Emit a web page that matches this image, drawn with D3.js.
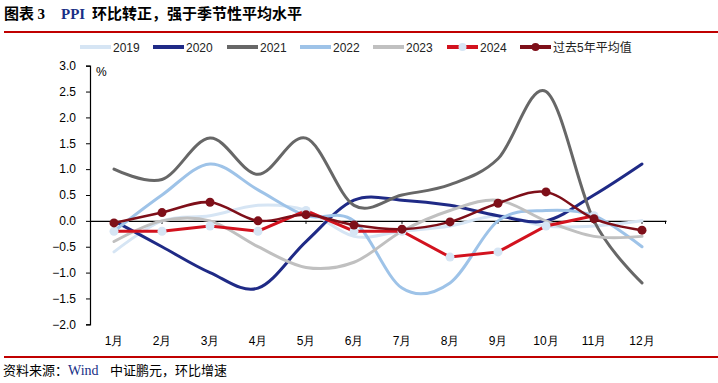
<!DOCTYPE html>
<html><head><meta charset="utf-8">
<script src="https://cdn.jsdelivr.net/npm/d3@7/dist/d3.min.js"></script>
<style>body{margin:0;background:#fff}svg{display:block}</style>
</head><body><svg id="c" width="718" height="383"></svg>
<script>
const months = ["1月","2月","3月","4月","5月","6月","7月","8月","9月","10月","11月","12月"];
const s2019 = [-0.6,0.0,0.1,0.3,0.2,-0.3,-0.2,-0.1,0.1,-0.1,-0.1,0.0];
const s2020 = [0.0,-0.5,-1.0,-1.3,-0.4,0.4,0.4,0.3,0.1,0.0,0.5,1.1];
const s2021 = [1.0,0.8,1.6,0.9,1.6,0.3,0.5,0.7,1.2,2.5,0.0,-1.2];
const s2022 = [-0.2,0.5,1.1,0.6,0.1,0.0,-1.3,-1.2,0.0,0.2,0.1,-0.5];
const s2023 = [-0.4,0.0,0.0,-0.5,-0.9,-0.8,-0.2,0.2,0.4,0.0,-0.3,-0.3];
const s2024 = [-0.2,-0.2,-0.1,-0.2,0.2,-0.2,-0.2,-0.7,-0.6,-0.1,0.1];
const avg5 = [-0.04,0.16,0.36,0.0,0.12,-0.08,-0.16,-0.02,0.34,0.56,0.04,-0.18];
const yTicks = [3.0,2.5,2.0,1.5,1.0,0.5,0.0,-0.5,-1.0,-1.5,-2.0];
const seriesNames = ["2019","2020","2021","2022","2023","2024","过去5年平均值"];

const svg = d3.select("#c");
const W = 718;
const x = d3.scaleBand().domain(months).range([90,666]);
const cx = m => x(m) + x.bandwidth()/2;
const y = d3.scaleLinear().domain([-2,3]).range([324.3,65.7]);

// title
const t = svg.append("text").attr("x",4).attr("y",19).attr("font-size",15).attr("font-weight","bold");
t.append("tspan").attr("font-family","Noto Sans CJK SC").attr("fill","#000").text("图表 ");
t.append("tspan").attr("font-family","Liberation Serif").attr("fill","#000").text("3");
t.append("tspan").attr("x",61).attr("font-family","Liberation Serif").attr("fill","#1a2f86").text("PPI");
t.append("tspan").attr("x",92).attr("font-family","Noto Sans CJK SC").attr("fill","#000").text("环比转正，强于季节性平均水平");
svg.append("rect").attr("x",4).attr("y",31).attr("width",W-4).attr("height",2).attr("fill","#c00000");
svg.append("rect").attr("x",4).attr("y",356).attr("width",W-4).attr("height",2).attr("fill","#c00000");

// source
const s = svg.append("text").attr("x",3).attr("y",375).attr("font-size",13);
s.append("tspan").attr("font-family","Noto Sans CJK SC").attr("fill","#000").text("资料来源：");
s.append("tspan").attr("x",68).attr("font-family","Liberation Serif").attr("font-size",14).attr("fill","#1a2f86").text("Wind");
s.append("tspan").attr("x",110).attr("font-family","Noto Sans CJK SC").attr("fill","#000").text("中证鹏元，环比增速");

// y axis
const ya = svg.append("g").attr("transform","translate(90,0)")
  .call(d3.axisLeft(y).tickValues(yTicks).tickFormat(d3.format(".1f")).tickSize(4).tickPadding(10));
ya.select(".domain").attr("stroke","#000").attr("stroke-width",1.2);
ya.selectAll(".tick line").attr("stroke","#000");
ya.selectAll("text").attr("font-family","Liberation Sans, Arial").attr("font-size",12).attr("fill","#000");
svg.append("text").attr("x",96).attr("y",76).attr("font-family","Liberation Sans, Arial").attr("font-size",12).text("%");

// x axis at zero
const xa = svg.append("g").attr("transform",`translate(0,${y(0)})`)
  .call(d3.axisBottom(x).tickSize(3).tickSizeOuter(0).tickFormat(""));
xa.select(".domain").attr("stroke","#000").attr("stroke-width",1.2);
xa.selectAll(".tick line").attr("stroke","#000");
svg.append("line").attr("x1",665.5).attr("x2",665.5).attr("y1",y(0)).attr("y2",y(0)+3).attr("stroke","#000");
svg.append("g").selectAll("text").data(months).join("text")
  .attr("x",d=>cx(d)).attr("y",345).attr("text-anchor","middle")
  .attr("font-family","Liberation Sans, Arial").attr("font-size",12).attr("fill","#000").text(d=>d);

const colors = ["#d6e5f4","#1f2a86","#676767","#9ec3e8","#c0c0c0","#d2121e","#7e0f19"];
const smooth = d3.line().x((d,i)=>cx(months[i])).y(d=>y(d)).curve(d3.curveCatmullRom.alpha(0));
const straight = d3.line().x((d,i)=>cx(months[i])).y(d=>y(d));
const years = [s2019,s2020,s2021,s2022,s2023];
years.forEach((arr,k)=>{
  svg.append("path").attr("d",smooth(arr)).attr("fill","none").attr("stroke",colors[k]).attr("stroke-width",3).attr("stroke-linecap","round");
});
svg.append("path").attr("d",straight(s2024)).attr("fill","none").attr("stroke",colors[5]).attr("stroke-width",3);
svg.append("g").selectAll("circle").data(s2024).join("circle")
  .attr("cx",(d,i)=>cx(months[i])).attr("cy",d=>y(d)).attr("r",4.5).attr("fill","#d6e5f4");
svg.append("path").attr("d",smooth(avg5)).attr("fill","none").attr("stroke",colors[6]).attr("stroke-width",2.5);
svg.append("g").selectAll("circle").data(avg5).join("circle")
  .attr("cx",(d,i)=>cx(months[i])).attr("cy",d=>y(d)).attr("r",4.5).attr("fill",colors[6]);

// legend
const lx = [80,153,227,300,373,447,520];
seriesNames.forEach((n,i)=>{
  const g = svg.append("g");
  g.append("line").attr("x1",lx[i]).attr("x2",lx[i]+31).attr("y1",47).attr("y2",47).attr("stroke",colors[i]).attr("stroke-width",4);
  if(i===5) g.append("circle").attr("cx",lx[i]+15.5).attr("cy",47).attr("r",4).attr("fill","#d6e5f4");
  if(i===6) g.append("circle").attr("cx",lx[i]+15.5).attr("cy",47).attr("r",4).attr("fill",colors[6]);
  g.append("text").attr("x",lx[i]+33).attr("y",51.5).attr("font-family","Liberation Sans, Arial, Noto Sans CJK SC").attr("font-size",12).attr("fill","#222").text(n);
});
</script></body></html>
